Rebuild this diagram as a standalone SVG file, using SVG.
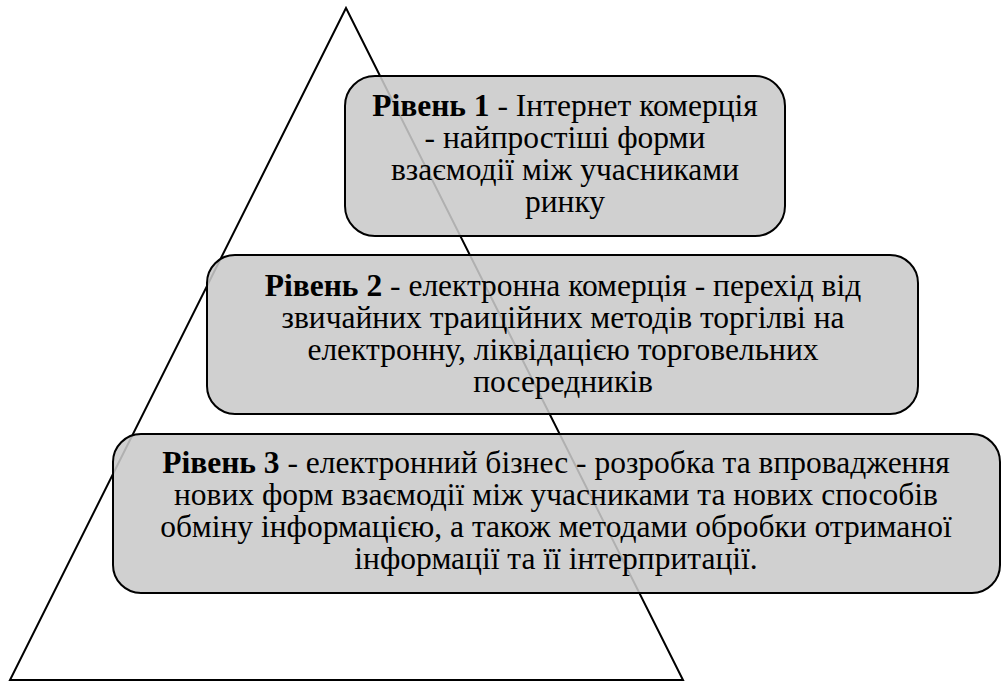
<svg xmlns="http://www.w3.org/2000/svg" width="1002" height="682" viewBox="0 0 1002 682">
<style>
.box{fill:#c9c9c9;fill-opacity:0.875;stroke:#000;stroke-width:2}
text{font-family:'Liberation Serif','DejaVu Serif',serif;font-size:31.5px;fill:#000;text-anchor:middle}
.b{font-weight:bold}
</style>
<rect width="1002" height="682" fill="#fff"/>
<g id="pyramid">
<polygon points="346,8 10,680 683,680" fill="none" stroke="#000" stroke-width="2"/>
</g>
<g id="level1">
<rect class="box" x="345" y="76" width="440" height="160" rx="30" ry="30"/>
<text x="565" y="116"><tspan class="b">Рівень 1</tspan> - Інтернет комерція</text>
<text x="565" y="148">- найпростіші форми</text>
<text x="565" y="180">взаємодії між учасниками</text>
<text x="565" y="212">ринку</text>
</g>
<g id="level2">
<rect class="box" x="207" y="255" width="711" height="159" rx="28" ry="28"/>
<text x="563" y="296"><tspan class="b">Рівень 2</tspan> - електронна комерція - перехід від</text>
<text x="563" y="328">звичайних траиційних методів торгілві на</text>
<text x="563" y="360">електронну, ліквідацією торговельних</text>
<text x="563" y="392">посередників</text>
</g>
<g id="level3">
<rect class="box" x="113" y="434" width="887" height="159" rx="28" ry="28"/>
<text x="556" y="473"><tspan class="b">Рівень 3</tspan> - електронний бізнес - розробка та впровадження</text>
<text x="556" y="505">нових форм взаємодії між учасниками та нових способів</text>
<text x="556" y="537">обміну інформацією, а також методами обробки отриманої</text>
<text x="556" y="569">інформації та її інтерпритації.</text>
</g>
</svg>
